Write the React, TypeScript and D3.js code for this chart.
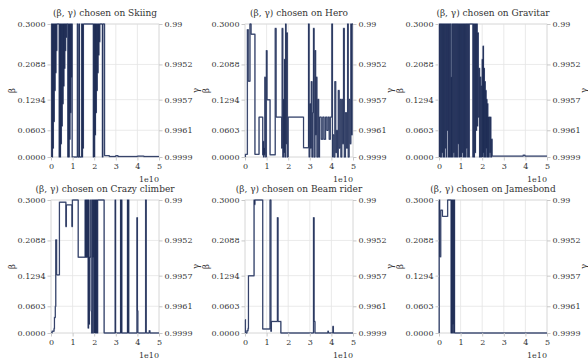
import React, { useEffect, useRef } from 'react';
import * as d3 from 'd3';

type Pt = [number, number];

const games = ['Skiing', 'Hero', 'Gravitar', 'Crazy climber', 'Beam rider', 'Jamesbond'];

const xTicks = [0, 1, 2, 3, 4, 5];
const betaTicks = [0, 0.0603, 0.1294, 0.2088, 0.3];
const betaLabels = ['0.0000', '0.0603', '0.1294', '0.2088', '0.3000'];
const gammaLabels = ['0.9999', '0.9961', '0.9957', '0.9952', '0.99'];

// [step (x1e10), beta]
const skiing: Pt[] = [
    [0, 0], [0.03, 0.3], [0.05, 0], [0.07, 0.3], [0.09, 0.02], [0.11, 0.3], [0.13, 0.08], [0.15, 0.3],
    [0.17, 0.15], [0.19, 0.3], [0.21, 0.19], [0.23, 0.3], [0.25, 0.24], [0.27, 0.3],
    [0.38, 0], [0.4, 0.3], [0.42, 0], [0.44, 0.3], [0.46, 0.03], [0.48, 0.3], [0.5, 0.07], [0.52, 0.3],
    [0.54, 0.12], [0.56, 0.3], [0.58, 0.16], [0.6, 0.3], [0.62, 0.2], [0.64, 0.3], [0.66, 0.24], [0.68, 0.3],
    [0.7, 0.27], [0.72, 0.3],
    [0.78, 0], [0.8, 0.3], [0.82, 0], [0.84, 0.3], [0.86, 0.04], [0.88, 0.3], [0.9, 0.1], [0.92, 0.3],
    [0.94, 0.18], [0.96, 0.3], [0.98, 0],
    [1.22, 0.3], [1.25, 0], [1.3, 0.3], [1.32, 0], [1.42, 0.3], [1.44, 0], [1.46, 0.3], [1.48, 0.02], [1.5, 0.3],
    [1.96, 0], [1.98, 0.3], [2.0, 0], [2.02, 0.3], [2.04, 0.05], [2.06, 0.3], [2.08, 0.1], [2.1, 0.3],
    [2.12, 0.15], [2.14, 0.3], [2.16, 0.19], [2.18, 0.3], [2.2, 0.23], [2.22, 0.3], [2.24, 0.26], [2.26, 0.3],
    [2.38, 0], [2.4, 0.3], [2.48, 0.003], [2.7, 0.001], [3.0, 0.003], [3.1, 0.001], [4.0, 0.002], [4.3, 0.001], [5, 0.001],
];

const hero: Pt[] = [
    [0, 0], [0.02, 0.006], [0.11, 0.287], [0.15, 0.171], [0.23, 0.3], [0.28, 0.277], [0.46, 0.006], [0.65, 0.09],
    [0.82, 0.005], [0.84, 0.035], [0.86, 0], [0.88, 0.02], [0.9, 0.005], [0.92, 0.18], [0.94, 0.01], [0.96, 0],
    [0.99, 0.24], [1.02, 0.129], [1.16, 0.005], [1.4, 0.29], [1.44, 0.09], [1.7, 0.02], [1.72, 0.29], [1.75, 0],
    [1.78, 0.13], [1.8, 0.01], [1.83, 0.22], [1.85, 0], [1.88, 0.3], [1.9, 0.03], [1.93, 0.28], [1.96, 0],
    [2.0, 0.09], [2.71, 0.021], [2.94, 0.3], [2.97, 0], [3.0, 0.12], [3.03, 0.02], [3.07, 0.17], [3.1, 0],
    [3.13, 0.1], [3.17, 0.29], [3.2, 0], [3.24, 0.24], [3.27, 0.05], [3.3, 0.18], [3.33, 0], [3.37, 0.13],
    [3.41, 0], [3.45, 0.09], [3.53, 0.04], [3.6, 0.09], [3.66, 0.04], [3.73, 0.09], [3.79, 0.06], [3.85, 0.09],
    [3.9, 0.04], [3.95, 0.09], [4.02, 0.3], [4.05, 0], [4.08, 0.05], [4.12, 0], [4.16, 0.17], [4.2, 0.01],
    [4.24, 0.06], [4.28, 0], [4.32, 0.15], [4.36, 0.02], [4.4, 0.13], [4.44, 0], [4.48, 0.13], [4.52, 0.03],
    [4.56, 0.29], [4.6, 0], [4.65, 0.1], [4.7, 0.02], [4.75, 0.3], [4.78, 0], [4.82, 0.13], [4.86, 0.03],
    [4.9, 0.3], [4.93, 0.05], [4.96, 0.3], [5, 0.3],
];

const gravitar: Pt[] = [
    [0, 0], [0.02, 0.3], [0.04, 0], [0.06, 0.3], [0.09, 0], [0.11, 0.3], [0.14, 0.01], [0.16, 0.3],
    [0.19, 0], [0.21, 0.3], [0.24, 0], [0.26, 0.3], [0.29, 0.02], [0.31, 0.3], [0.34, 0], [0.36, 0.3],
    [0.39, 0.06], [0.41, 0.3], [0.44, 0], [0.46, 0.3], [0.49, 0], [0.51, 0.3], [0.54, 0], [0.56, 0.18],
    [0.58, 0], [0.6, 0.3], [0.63, 0], [0.65, 0.3], [0.68, 0.01], [0.7, 0.3], [0.73, 0], [0.75, 0.3],
    [0.78, 0], [0.8, 0.3], [0.83, 0], [0.85, 0.3], [0.88, 0.03], [0.9, 0.3], [0.93, 0], [0.95, 0.3],
    [0.98, 0], [1.0, 0.3], [1.03, 0], [1.05, 0.3], [1.08, 0.01], [1.1, 0.3], [1.13, 0], [1.15, 0.3],
    [1.18, 0], [1.2, 0.3], [1.23, 0], [1.25, 0.3], [1.28, 0.02], [1.3, 0.3], [1.33, 0], [1.35, 0.3],
    [1.38, 0], [1.4, 0.3],
    [1.57, 0], [1.59, 0.3], [1.62, 0], [1.64, 0.3], [1.67, 0.01], [1.69, 0.3], [1.72, 0.06], [1.74, 0.3],
    [1.77, 0.07], [1.79, 0.28], [1.82, 0.09], [1.85, 0.2], [1.88, 0], [1.9, 0.18], [1.93, 0], [1.95, 0.16],
    [1.98, 0], [2.0, 0.22], [2.02, 0], [2.04, 0.25], [2.06, 0.01], [2.08, 0.2], [2.1, 0], [2.12, 0.17],
    [2.14, 0], [2.16, 0.15], [2.18, 0.02], [2.2, 0.13], [2.22, 0], [2.24, 0.12], [2.26, 0], [2.28, 0.09],
    [2.3, 0], [2.32, 0.09], [2.35, 0.01], [2.38, 0.09], [2.4, 0], [2.43, 0.04], [2.46, 0.002],
    [3.9, 0.004], [3.98, 0.002], [5, 0.002],
];

const crazyClimber: Pt[] = [
    [0, 0], [0.05, 0.004], [0.14, 0.01], [0.16, 0.035], [0.2, 0.06], [0.22, 0.21], [0.26, 0.131],
    [0.39, 0.295], [0.69, 0.24], [0.71, 0.289], [0.97, 0.24], [0.99, 0.3], [1.26, 0.171],
    [1.58, 0.3], [1.6, 0.171], [1.62, 0.3], [1.64, 0.171], [1.66, 0.3], [1.68, 0.171], [1.7, 0.3],
    [1.72, 0.011], [1.74, 0.3], [1.76, 0.02], [1.78, 0.171], [1.84, 0.3], [1.86, 0.05], [1.88, 0],
    [1.92, 0.3], [1.94, 0.171], [1.96, 0.3], [1.98, 0], [2.0, 0.3], [2.02, 0], [2.04, 0.3], [2.06, 0],
    [2.08, 0.3], [2.1, 0], [2.12, 0.3], [2.14, 0], [2.16, 0.3], [2.46, 0], [2.97, 0.3], [2.99, 0],
    [3.22, 0.3], [3.24, 0], [3.26, 0.3], [3.28, 0], [3.54, 0.3], [3.56, 0], [3.58, 0.3], [3.6, 0],
    [3.98, 0.26], [4.0, 0.05], [4.02, 0], [4.38, 0.3], [4.41, 0], [4.55, 0.005], [4.58, 0], [5, 0],
];

const beamRider: Pt[] = [
    [0, 0.03], [0.02, 0], [0.09, 0.005], [0.14, 0.01], [0.16, 0.129], [0.42, 0.3], [0.44, 0.29], [0.46, 0.3],
    [0.82, 0.009], [1.16, 0.3], [1.2, 0.004], [1.22, 0.026], [1.5, 0.26], [1.53, 0.026], [1.66, 0],
    [3.17, 0.26], [3.2, 0.026], [3.24, 0], [3.84, 0.004], [3.86, 0], [4.07, 0.015], [4.09, 0], [5, 0],
];

const jamesbond: Pt[] = [
    [0, 0], [0.01, 0.3], [0.03, 0.172], [0.08, 0.277], [0.16, 0.263], [0.4, 0.3], [0.56, 0], [0.58, 0.3],
    [0.6, 0], [0.62, 0.3], [0.64, 0.02], [0.66, 0.3], [0.68, 0], [0.7, 0.3], [0.72, 0], [5, 0],
];

const seriesByGame = [skiing, hero, gravitar, crazyClimber, beamRider, jamesbond];

function BetaGammaGrid() {
    const svgRef = useRef<SVGSVGElement>(null);

    useEffect(() => {
        const width = 588;
        const height = 361;
        const colLeft = [51, 245, 439];
        const rowTop = [24, 200];
        const pw = 108;
        const ph = 133;
        const font = '"DejaVu Serif", serif';

        const svg = d3.select(svgRef.current)
            .attr('width', width)
            .attr('height', height);
        svg.selectAll('*').remove();

        games.forEach((game, i) => {
            const left = colLeft[i % 3];
            const top = rowTop[Math.floor(i / 3)];
            const x = d3.scaleLinear().domain([0, 5]).range([left, left + pw]);
            const y = d3.scaleLinear().domain([0, 0.3]).range([top + ph, top]);
            const g = svg.append('g');

            // grid
            g.selectAll('.vgrid').data(xTicks).enter().append('line')
                .attr('x1', d => x(d)).attr('x2', d => x(d))
                .attr('y1', top).attr('y2', top + ph)
                .attr('stroke', '#e5e5e5').attr('stroke-width', 0.8);
            g.selectAll('.hgrid').data(betaTicks).enter().append('line')
                .attr('x1', left).attr('x2', left + pw)
                .attr('y1', d => y(d)).attr('y2', d => y(d))
                .attr('stroke', '#e5e5e5').attr('stroke-width', 0.8);
            g.append('rect')
                .attr('x', left).attr('y', top).attr('width', pw).attr('height', ph)
                .attr('fill', 'none').attr('stroke', '#dcdcdc').attr('stroke-width', 0.8);

            const clipId = `clip-${i}`;
            svg.append('clipPath').attr('id', clipId)
                .append('rect')
                .attr('x', left - 1).attr('y', top - 1).attr('width', pw + 2).attr('height', ph + 2);

            const line = d3.line<Pt>()
                .x(d => x(d[0]))
                .y(d => y(d[1]))
                .curve(d3.curveStepAfter);

            const data = seriesByGame[i];
            // gamma (same arm index, twin axis) underneath, beta on top
            g.append('path')
                .datum(data)
                .attr('clip-path', `url(#${clipId})`)
                .attr('fill', 'none')
                .attr('stroke', '#8e98b4')
                .attr('stroke-width', 1.4)
                .attr('d', line);
            g.append('path')
                .datum(data)
                .attr('clip-path', `url(#${clipId})`)
                .attr('fill', 'none')
                .attr('stroke', '#1a2852')
                .attr('stroke-width', 0.8)
                .attr('d', line);

            const styleAxis = (ax: any) => {
                ax.select('.domain').remove();
                ax.selectAll('.tick line').attr('stroke', '#c8c8c8');
                ax.selectAll('.tick text')
                    .attr('fill', '#333')
                    .style('font-family', font)
                    .style('font-size', '8px');
            };

            const leftAx = g.append('g')
                .attr('transform', `translate(${left},0)`)
                .call(d3.axisLeft(y).tickValues(betaTicks).tickFormat((d, k) => betaLabels[k]).tickSize(3.5).tickPadding(2));
            styleAxis(leftAx);

            const rightAx = g.append('g')
                .attr('transform', `translate(${left + pw},0)`)
                .call(d3.axisRight(y).tickValues(betaTicks).tickFormat((d, k) => gammaLabels[k]).tickSize(3.5).tickPadding(2));
            styleAxis(rightAx);

            const bottomAx = g.append('g')
                .attr('transform', `translate(0,${top + ph})`)
                .call(d3.axisBottom(x).tickValues(xTicks).tickFormat(d3.format('d')).tickSize(3.5).tickPadding(3));
            styleAxis(bottomAx);

            g.append('text')
                .attr('x', left + pw)
                .attr('y', top + ph + 25)
                .attr('text-anchor', 'end')
                .attr('fill', '#333')
                .style('font-family', font)
                .style('font-size', '8px')
                .text('1e10');

            g.append('text')
                .attr('x', left + pw / 2)
                .attr('y', top - 8)
                .attr('text-anchor', 'middle')
                .attr('fill', '#333')
                .style('font-family', font)
                .style('font-size', '9px')
                .text(`(β, γ) chosen on ${game}`);

            g.append('text')
                .attr('transform', `translate(${left - 39},${top + ph / 2}) rotate(-90)`)
                .attr('text-anchor', 'middle')
                .attr('dominant-baseline', 'central')
                .attr('fill', '#333')
                .style('font-family', font)
                .style('font-size', '8.5px')
                .text('β');

            g.append('text')
                .attr('transform', `translate(${left + pw + 37},${top + ph / 2}) rotate(-90)`)
                .attr('text-anchor', 'middle')
                .attr('dominant-baseline', 'central')
                .attr('fill', '#333')
                .style('font-family', font)
                .style('font-size', '8.5px')
                .text('γ');
        });
    }, []);

    return <svg ref={svgRef} style={{ position: 'absolute', left: 0, top: 0, background: '#fff' }}></svg>;
}

export default function App() {
    return <BetaGammaGrid />;
}
